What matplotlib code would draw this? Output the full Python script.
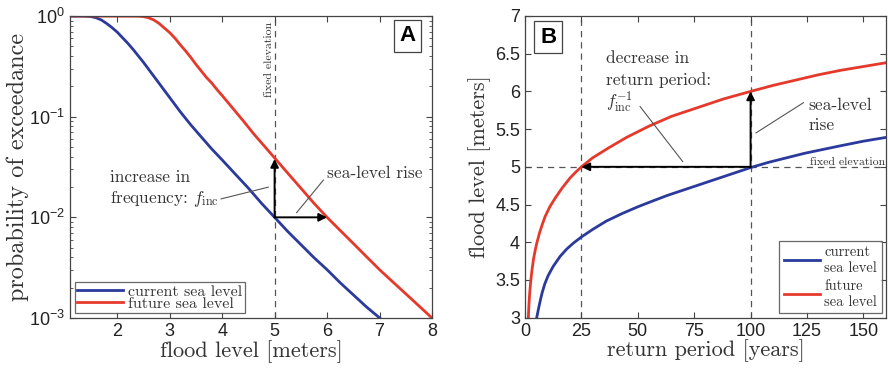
import numpy as np
import matplotlib
matplotlib.use("Agg")
import matplotlib.pyplot as plt

plt.rcParams['font.family'] = ['Liberation Sans', 'DejaVu Sans']
plt.rcParams['mathtext.fontset'] = 'cm'
plt.rcParams['axes.unicode_minus'] = False

# ---- panel A: probability of exceedance vs flood level ----
a_cur_x = [1.1, 1.4, 1.5, 1.6, 1.7, 1.8, 1.9, 2.0, 2.1, 2.2, 2.3, 2.4, 2.5, 2.6,
           2.7, 2.8, 2.9, 3.0, 3.2, 3.4, 3.6, 3.8, 4.0, 4.25, 4.5, 4.75, 5.0,
           5.25, 5.5, 5.75, 6.0, 6.25, 6.5, 6.75, 7.05]
a_cur_p = [1.0, 0.9954, 0.9863, 0.9594, 0.9120, 0.8414, 0.7674, 0.6918, 0.6095,
           0.5370, 0.4677, 0.4027, 0.3467, 0.2951, 0.2512, 0.2138, 0.1820,
           0.1549, 0.1122, 0.0832, 0.0631, 0.0479, 0.0372, 0.0269, 0.0195,
           0.0138, 0.0100, 0.00724, 0.00537, 0.00398, 0.00302, 0.00224,
           0.00170, 0.00129, 0.000955]
a_fut_x = [1.1, 2.4, 2.5, 2.6, 2.7, 2.8, 2.9, 3.0, 3.1, 3.2, 3.3, 3.4, 3.5, 3.6,
           3.7, 3.8, 3.9, 4.0, 4.2, 4.4, 4.6, 4.8, 5.0, 5.25, 5.5, 5.75, 6.0,
           6.25, 6.5, 6.75, 7.0, 7.25, 7.5, 7.75, 8.0]
a_fut_p = [1.0, 0.9954, 0.9863, 0.9594, 0.9120, 0.8414, 0.7586, 0.6839, 0.6026,
           0.5188, 0.4519, 0.3890, 0.3311, 0.2851, 0.2455, 0.2163, 0.1862,
           0.1622, 0.1216, 0.0912, 0.0676, 0.0513, 0.0389, 0.0275, 0.0195,
           0.0138, 0.0100, 0.00741, 0.00550, 0.00407, 0.00302, 0.00229,
           0.00174, 0.00132, 0.00100]
a_xticks = [2, 3, 4, 5, 6, 7, 8]
a_yticks = [1e-3, 1e-2, 1e-1, 1e0]

# ---- panel B: flood level vs return period ----
b_cur_t = [5.2, 6.0, 6.8, 7.6, 8.8, 10.3, 12.5, 15.5, 18.5, 21.5, 25, 30, 36,
           43, 50, 56, 63, 70, 78, 85, 92, 100, 108, 116, 124, 132, 140, 150, 160]
b_cur_h = [3.0, 3.12, 3.23, 3.33, 3.45, 3.56, 3.68, 3.81, 3.91, 3.99, 4.07, 4.17,
           4.28, 4.38, 4.47, 4.54, 4.62, 4.69, 4.77, 4.84, 4.91, 4.99, 5.06, 5.12,
           5.18, 5.23, 5.28, 5.34, 5.39]
b_fut_t = [1.48, 1.75, 2.07, 2.5, 3.1, 3.8, 4.5, 5.2, 6.5, 7.6, 8.9, 11, 13.7,
           16.5, 19.9, 22.5, 25, 30, 37, 45, 55, 65, 78, 88, 100, 110, 120, 130,
           140, 150, 160]
b_fut_h = [3.0, 3.17, 3.32, 3.47, 3.63, 3.78, 3.89, 3.985, 4.13, 4.23, 4.34, 4.47,
           4.60, 4.72, 4.85, 4.93, 5.0, 5.12, 5.25, 5.39, 5.54, 5.67, 5.80, 5.90,
           6.0, 6.08, 6.15, 6.22, 6.28, 6.33, 6.38]
b_xticks = [0, 25, 50, 75, 100, 125, 150]
b_yticks = [3, 3.5, 4, 4.5, 5, 5.5, 6, 6.5, 7]
b_yticklabels = ['3', '3.5', '4', '4.5', '5', '5.5', '6', '6.5', '7']

BLUE = '#2b3a9c'
RED = '#e53a2b'
TXT = '#333333'
SERIF = 'cmr10'

fig = plt.figure(figsize=(8.88, 3.70), dpi=100)
axA = fig.add_axes([0.0788, 0.1405, 0.4077, 0.8163])
axB = fig.add_axes([0.5912, 0.1414, 0.4065, 0.8154])


def style(ax):
    for s in ax.spines.values():
        s.set_color('#444444')
        s.set_linewidth(0.9)
    ax.tick_params(which='both', direction='in', top=True, right=True,
                   colors='#444444', labelcolor='#222222', labelsize=13)
    ax.tick_params(which='major', length=4)
    ax.tick_params(which='minor', length=2.5)


def arrow(ax, start, end):
    ax.annotate('', xy=end, xytext=start,
                arrowprops=dict(arrowstyle='-|>', color='black', lw=1.4,
                                mutation_scale=12, shrinkA=0, shrinkB=0))


# panel A
axA.plot(a_cur_x, a_cur_p, color=BLUE, lw=2, label='current sea level')
axA.plot(a_fut_x, a_fut_p, color=RED, lw=2, label='future sea level')
axA.set_yscale('log')
axA.set_xlim(1.1, 8)
axA.set_ylim(1e-3, 1)
axA.set_xticks(a_xticks)
axA.set_yticks(a_yticks)
style(axA)
axA.axvline(5, color='#555555', lw=0.9, ls=(0, (5, 4)), zorder=1)
axA.text(4.9, 0.37, 'fixed elevation', rotation=90, ha='center', va='center',
         fontsize=8.5, family=SERIF, color=TXT)
arrow(axA, (5, 0.01), (5, 0.038))
arrow(axA, (5, 0.01), (6, 0.01))
axA.text(1.87, 0.0226, 'increase in', fontsize=12.5, family=SERIF, color=TXT,
         va='baseline')
axA.text(1.87, 0.0139, 'frequency: $f_{\\rm inc}$', fontsize=12.5,
         family=SERIF, color=TXT, va='baseline')
axA.plot([3.98, 4.88], [10 ** -1.817, 10 ** -1.70], color='#555555', lw=0.8)
axA.text(5.99, 0.0245, 'sea-level rise', fontsize=12.5, family=SERIF,
         color=TXT, va='baseline')
axA.plot([5.42, 5.93], [10 ** -1.953, 10 ** -1.63], color='#555555', lw=0.8)
axA.text(0.932, 0.934, 'A', transform=axA.transAxes, ha='center', va='center',
         fontsize=16, fontweight='bold',
         bbox=dict(boxstyle='square,pad=0.25', fc='white', ec='#444444', lw=0.9))
legA = axA.legend(loc='lower left', prop={'family': SERIF, 'size': 11.5},
                  frameon=True, fancybox=False, edgecolor='#444444',
                  borderpad=0.15, labelspacing=-0.12, handlelength=2.9,
                  handletextpad=0.3, borderaxespad=0.3)
legA.get_frame().set_linewidth(0.9)
for t in legA.get_texts():
    t.set_color(TXT)
axA.set_xlabel('flood level [meters]', family=SERIF, fontsize=16, color=TXT,
               labelpad=0)
axA.set_ylabel('probability of exceedance', family=SERIF, fontsize=17.5,
               color=TXT, labelpad=0)

# panel B
axB.plot(b_cur_t, b_cur_h, color=BLUE, lw=2, label='current\nsea level')
axB.plot(b_fut_t, b_fut_h, color=RED, lw=2, label='future\nsea level')
axB.set_xlim(0, 160)
axB.set_ylim(3, 7)
axB.set_xticks(b_xticks)
axB.set_yticks(b_yticks)
axB.set_yticklabels(b_yticklabels)
style(axB)
for xv in (25, 100):
    axB.axvline(xv, color='#555555', lw=0.9, ls=(0, (5, 4)), zorder=1)
axB.axhline(5, color='#555555', lw=0.9, ls=(0, (5, 4)), zorder=1)
arrow(axB, (100, 5), (25, 5))
arrow(axB, (100, 5), (100, 6))
axB.text(35.8, 6.377, 'decrease in', fontsize=12.5, family=SERIF, color=TXT,
         va='baseline')
axB.text(35.8, 6.085, 'return period:', fontsize=12.5, family=SERIF,
         color=TXT, va='baseline')
axB.text(35.8, 5.79, '$f_{\\rm inc}^{-1}$', fontsize=12.5, color=TXT,
         va='baseline')
axB.plot([51, 69.9], [5.80, 5.07], color='#555555', lw=0.8)
axB.text(125.6, 5.75, 'sea-level', fontsize=12.5, family=SERIF, color=TXT,
         va='baseline')
axB.text(125.6, 5.49, 'rise', fontsize=12.5, family=SERIF, color=TXT,
         va='baseline')
axB.plot([102.4, 123.4], [5.45, 5.85], color='#555555', lw=0.8)
axB.text(159.5, 5.06, 'fixed elevation', fontsize=8.5, family=SERIF,
         color=TXT, ha='right', va='center')
axB.text(0.064, 0.929, 'B', transform=axB.transAxes, ha='center', va='center',
         fontsize=16, fontweight='bold',
         bbox=dict(boxstyle='square,pad=0.25', fc='white', ec='#444444', lw=0.9))
legB = axB.legend(loc='lower right', prop={'family': SERIF, 'size': 10.5},
                  frameon=True, fancybox=False, edgecolor='#444444',
                  borderpad=0.3, labelspacing=0.3, handlelength=2.5,
                  handletextpad=0.3, borderaxespad=0.3)
legB.get_frame().set_linewidth(0.9)
for t in legB.get_texts():
    t.set_color(TXT)
axB.set_xlabel('return period [years]', family=SERIF, fontsize=16, color=TXT,
               labelpad=0)
axB.set_ylabel('flood level [meters]', family=SERIF, fontsize=16, color=TXT,
               labelpad=3)

fig.savefig('out.png', dpi=100)
